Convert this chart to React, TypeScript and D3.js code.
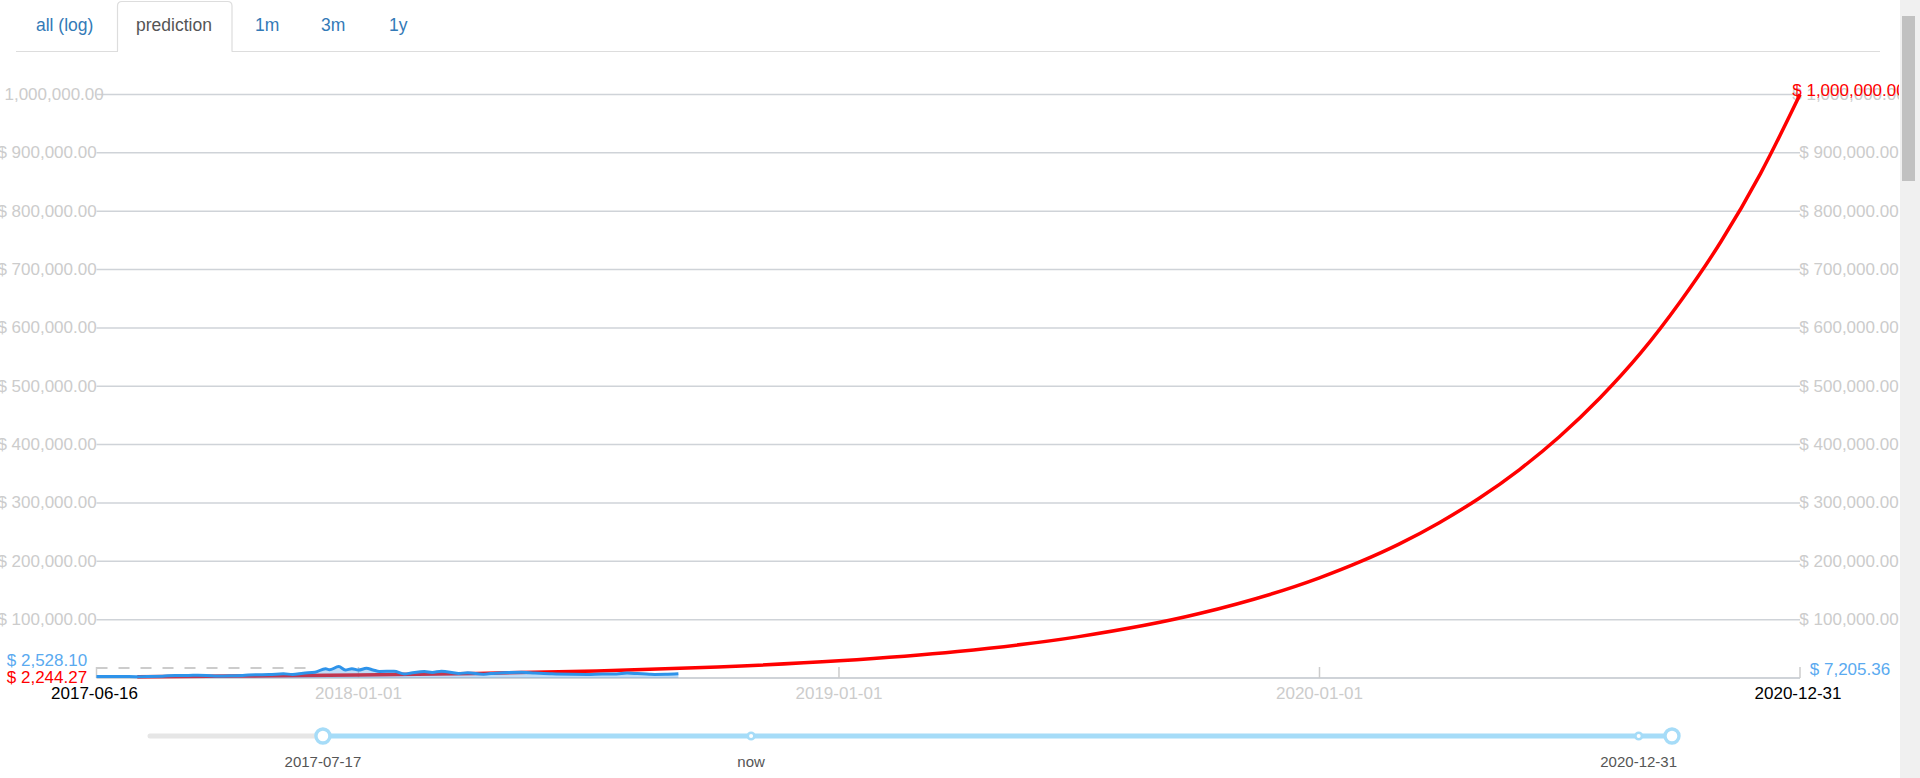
import React from "react";
import * as d3 from "d3";

// ---------- data ----------
const tabLabels = ["all (log)", "prediction", "1m", "3m", "1y"];
const activeTab = "prediction";

const yTickValues = [100000, 200000, 300000, 400000, 500000, 600000, 700000, 800000, 900000, 1000000];
const xTickDates = ["2018-01-01", "2019-01-01", "2020-01-01"];
const xDomainDates = ["2017-06-16", "2020-12-31"];

const priceDates = [
  "2017-06-16", "2017-06-25", "2017-07-05", "2017-07-16", "2017-07-25", "2017-08-05", "2017-08-15",
  "2017-08-25", "2017-09-01", "2017-09-14", "2017-09-25", "2017-10-05", "2017-10-15", "2017-10-25",
  "2017-11-05", "2017-11-12", "2017-11-20", "2017-11-29", "2017-12-07", "2017-12-10", "2017-12-17",
  "2017-12-22", "2017-12-27", "2018-01-01", "2018-01-07", "2018-01-12", "2018-01-17", "2018-01-28",
  "2018-02-05", "2018-02-10", "2018-02-20", "2018-02-26", "2018-03-05", "2018-03-18", "2018-03-25",
  "2018-04-06", "2018-04-15", "2018-04-25", "2018-05-05", "2018-05-15", "2018-05-28", "2018-06-12",
  "2018-06-24", "2018-07-05", "2018-07-16", "2018-07-24", "2018-08-01", "2018-08-10", "2018-08-14",
  "2018-08-22", "2018-09-01",
];
const priceValues = [
  2528.1, 2590, 2610, 2300, 2550, 3200, 4200,
  4350, 4900, 3300, 3900, 4300, 5700, 5800,
  7400, 5900, 8200, 9900, 16000, 14000, 19500,
  13800, 15900, 13500, 16500, 13800, 11200, 11700,
  7000, 8600, 11200, 9600, 11500, 7900, 8800,
  6600, 8300, 9500, 9800, 8600, 7100, 6300,
  6100, 6700, 6750, 8400, 7600, 6500, 6200,
  6400, 7205.36,
];

const predictionDates = [
  "2017-07-17", "2017-10-01", "2018-01-01", "2018-04-01", "2018-07-01", "2018-10-01", "2019-01-01",
  "2019-04-01", "2019-07-01", "2019-10-01", "2020-01-01", "2020-02-01", "2020-03-01", "2020-04-01",
  "2020-05-01", "2020-06-01", "2020-07-01", "2020-08-01", "2020-09-01", "2020-10-01", "2020-11-01",
  "2020-12-01", "2020-12-31",
];
const predictionValues = [
  2244.27, 3240, 5050, 7800, 12100, 18900, 29400,
  45400, 70500, 110000, 171600, 199300, 229000, 266200,
  307700, 357300, 413000, 479800, 557000, 644800, 748000,
  864500, 1000000,
];

const sliderDomain = ["2017-02-01", "2021-02-01"];
const sliderLeftHandle = "2017-07-17";
const sliderMarkers = [
  { date: "2018-09-01", label: "now" },
  { date: "2020-12-31", label: "2020-12-31" },
];

// ---------- helpers ----------
const parse = d3.utcParse("%Y-%m-%d");
const money = (v: number) => "$ " + d3.format(",.2f")(v);
const FONT = "'Liberation Sans', Arial, Helvetica, sans-serif";

type Pt = { date: Date; value: number };

export default function App() {
  const W = 1920;
  const H = 778;
  const x = d3.scaleUtc()
    .domain(xDomainDates.map((d) => parse(d) as Date))
    .range([96.5, 1800]);
  const y = d3.scaleLinear().domain([0, 1000000]).range([678, 94.5]);

  const price: Pt[] = priceDates.map((d, i) => ({ date: parse(d) as Date, value: priceValues[i] }));
  const prediction: Pt[] = predictionDates.map((d, i) => ({ date: parse(d) as Date, value: predictionValues[i] }));

  const line = d3.line<Pt>()
    .x((d) => x(d.date))
    .y((d) => y(d.value))
    .curve(d3.curveMonotoneX);
  const area = d3.area<Pt>()
    .x((d) => x(d.date))
    .y0(y(0))
    .y1((d) => y(d.value))
    .curve(d3.curveMonotoneX);

  const peak = price.reduce((a, b) => (b.value > a.value ? b : a));

  const sx = d3.scaleUtc()
    .domain(sliderDomain.map((d) => parse(d) as Date))
    .range([150, 1672]);
  const sliderY = 736;
  const lhX = sx(parse(sliderLeftHandle) as Date);
  const rhX = sx(parse(sliderDomain[1]) as Date);

  const [x0, x1] = x.range();
  const gridColor = "#cfd3d8";
  const labelGray = "#cccccc";
  const blueLabel = "#5aaaf0";

  const tabX = [36, 136, 255, 321, 389];

  return (
    <svg
      width={W}
      height={H}
      style={{ position: "fixed", left: 0, top: 0, background: "#fff", fontFamily: FONT }}
    >
      <defs>
        <clipPath id="pageClip">
          <rect x={0} y={0} width={1899} height={H} />
        </clipPath>
      </defs>
      <g clipPath="url(#pageClip)">
        {/* tabs */}
        <line x1={16} x2={1880} y1={51.5} y2={51.5} stroke="#dddddd" strokeWidth={1.2} />
        <path
          d="M117.5,52 V6 Q117.5,1.5 122,1.5 H227.5 Q232,1.5 232,6 V52"
          fill="#fff"
          stroke="#dddddd"
          strokeWidth={1.2}
        />
        <line x1={118.2} x2={231.3} y1={51.5} y2={51.5} stroke="#fff" strokeWidth={1.6} />
        {tabLabels.map((t, i) => (
          <text
            key={t}
            x={tabX[i]}
            y={31}
            fontSize={17.5}
            fill={t === activeTab ? "#555555" : "#337ab7"}
          >
            {t}
          </text>
        ))}

        {/* grid + y labels */}
        {yTickValues.map((v) => (
          <g key={v}>
            <line x1={x0} x2={x1} y1={y(v)} y2={y(v)} stroke={gridColor} strokeWidth={1.5} />
            <text x={47} y={y(v) + 5.5} fontSize={17} fill={labelGray} textAnchor="middle">
              {money(v)}
            </text>
            <text x={1849} y={y(v) + 5.5} fontSize={17} fill={labelGray} textAnchor="middle">
              {money(v)}
            </text>
          </g>
        ))}

        {/* x axis */}
        <line x1={x0} x2={x1} y1={y(0)} y2={y(0)} stroke="#cfd3d8" strokeWidth={2} />
        <line x1={x0} x2={x0} y1={y(0)} y2={y(0) - 11} stroke="#cccccc" strokeWidth={1.5} />
        <line x1={x1} x2={x1} y1={y(0)} y2={y(0) - 11} stroke="#cccccc" strokeWidth={1.5} />
        {xTickDates.map((d) => {
          const px = x(parse(d) as Date);
          return (
            <g key={d}>
              <line x1={px} x2={px} y1={y(0)} y2={y(0) - 11} stroke="#cccccc" strokeWidth={1.5} />
              <text x={px} y={699} fontSize={17} fill={labelGray} textAnchor="middle">
                {d}
              </text>
            </g>
          );
        })}
        {xDomainDates.map((d) => (
          <text key={d} x={x(parse(d) as Date) - 2} y={699} fontSize={17} fill="#000" textAnchor="middle">
            {d}
          </text>
        ))}

        {/* peak dashed guide */}
        <line
          x1={x0}
          x2={x(peak.date) - 24}
          y1={y(peak.value) + 1.5}
          y2={y(peak.value) + 1.5}
          stroke="#cccccc"
          strokeWidth={2}
          strokeDasharray="11,11"
        />

        {/* prediction line */}
        <path d={line(prediction) || ""} fill="none" stroke="#ff0000" strokeWidth={3.5} strokeLinejoin="round" />

        {/* price area + line */}
        <path d={area(price) || ""} fill="#4a9fe8" fillOpacity={0.35} stroke="none" />
        <path d={line(price) || ""} fill="none" stroke="#2e93ea" strokeWidth={3} strokeLinejoin="round" />

        {/* value labels */}
        <text x={47} y={665.5} fontSize={17} fill={blueLabel} textAnchor="middle">
          {money(priceValues[0])}
        </text>
        <text x={47} y={y(predictionValues[0]) + 6} fontSize={17} fill="#ff0000" textAnchor="middle">
          {money(predictionValues[0])}
        </text>
        <text x={1850} y={y(priceValues[priceValues.length - 1]) + 1.2} fontSize={17} fill={blueLabel} textAnchor="middle">
          {money(priceValues[priceValues.length - 1])}
        </text>
        <text
          x={1849}
          y={y(predictionValues[predictionValues.length - 1]) + 1.5}
          fontSize={17}
          fill="#ff0000"
          textAnchor="middle"
        >
          {money(predictionValues[predictionValues.length - 1])}
        </text>

        {/* slider */}
        <line x1={150} x2={lhX} y1={sliderY} y2={sliderY} stroke="#e6e6e6" strokeWidth={5} strokeLinecap="round" />
        <line x1={lhX} x2={rhX} y1={sliderY} y2={sliderY} stroke="#a6dcf8" strokeWidth={5} />
        {sliderMarkers.map((m) => {
          const px = sx(parse(m.date) as Date);
          return (
            <g key={m.label}>
              <circle cx={px} cy={sliderY} r={3.3} fill="#fff" stroke="#a6dcf8" strokeWidth={2.6} />
              <text x={px} y={767} fontSize={15} fill="#555555" textAnchor="middle">
                {m.label}
              </text>
            </g>
          );
        })}
        <circle cx={lhX} cy={sliderY} r={7} fill="#fff" stroke="#a6dcf8" strokeWidth={3.4} />
        <text x={lhX} y={767} fontSize={15} fill="#555555" textAnchor="middle">
          {sliderLeftHandle}
        </text>
        <circle cx={rhX} cy={sliderY} r={7} fill="#fff" stroke="#a6dcf8" strokeWidth={3.4} />
      </g>

      {/* page scrollbar */}
      <rect x={1900} y={0} width={20} height={H} fill="#f0f0f0" />
      <rect x={1902} y={16} width={13} height={165} fill="#c1c1c1" />
    </svg>
  );
}
